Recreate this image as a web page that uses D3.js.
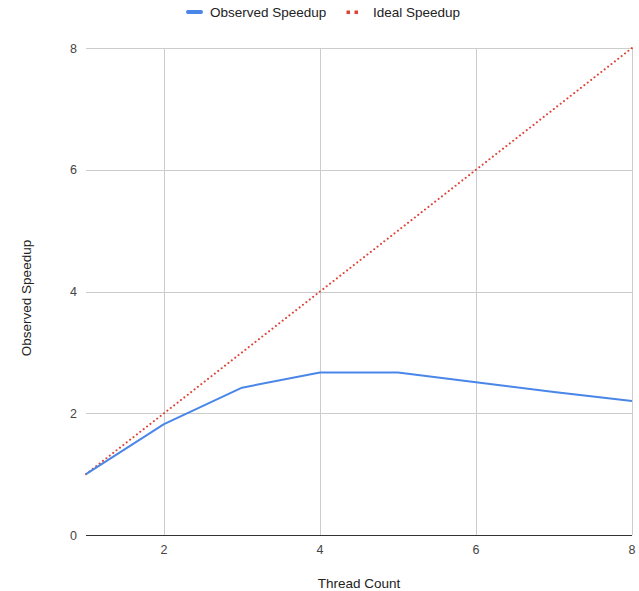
<!DOCTYPE html>
<html>
<head>
  <meta charset="utf-8">
  <title>Observed vs Ideal Speedup</title>
  <style>
    body { margin: 0; background: #fff; }
    svg { display: block; font-family: "Liberation Sans", Arial, sans-serif; }
    .grid line { stroke: #cccccc; stroke-width: 1px; }
    .tick-label { font-size: 12.5px; fill: #444; }
    .axis-title { font-size: 13.5px; fill: #222; }
    .legend-text { font-size: 13.5px; fill: #222; }
  </style>
</head>
<body>
  <svg width="639" height="591"></svg>
  <script src="https://d3js.org/d3.v7.min.js"></script>
  <script>
    // thread counts and measured speedups
    var threads = [1, 2, 3, 4, 5, 6, 7, 8];
    var observed = [1.0, 1.82, 2.42, 2.67, 2.67, 2.51, 2.35, 2.2];
    var ideal = [1, 2, 3, 4, 5, 6, 7, 8];
    var xTicks = [2, 4, 6, 8];
    var yTicks = [0, 2, 4, 6, 8];

    var svg = d3.select('svg');
    var margin = { left: 86, right: 7, top: 48, bottom: 56 };
    var width = 639, height = 591;

    var x = d3.scaleLinear().domain([1, 8]).range([margin.left, width - margin.right]);
    var y = d3.scaleLinear().domain([0, 8]).range([height - margin.bottom, margin.top]);

    // gridlines
    var grid = svg.append('g').attr('class', 'grid');
    grid.selectAll('.h').data(yTicks.filter(function(d) { return d > 0; })).enter().append('line')
      .attr('x1', x(1)).attr('x2', x(8))
      .attr('y1', function(d) { return Math.round(y(d)) + 0.5; })
      .attr('y2', function(d) { return Math.round(y(d)) + 0.5; });
    grid.selectAll('.v').data(xTicks).enter().append('line')
      .attr('x1', function(d) { return Math.round(x(d)) + 0.5; })
      .attr('x2', function(d) { return Math.round(x(d)) + 0.5; })
      .attr('y1', y(8)).attr('y2', y(0));

    // baseline
    svg.append('line')
      .attr('x1', x(1)).attr('x2', x(8))
      .attr('y1', Math.round(y(0)) + 0.5).attr('y2', Math.round(y(0)) + 0.5)
      .attr('stroke', '#333').attr('stroke-width', 1);

    // tick labels
    svg.selectAll('.ylab').data(yTicks).enter().append('text')
      .attr('class', 'tick-label')
      .attr('x', margin.left - 9)
      .attr('y', function(d) { return y(d) + 4.5; })
      .attr('text-anchor', 'end')
      .text(function(d) { return d; });
    svg.selectAll('.xlab').data(xTicks).enter().append('text')
      .attr('class', 'tick-label')
      .attr('x', function(d) { return x(d); })
      .attr('y', y(0) + 19)
      .attr('text-anchor', 'middle')
      .text(function(d) { return d; });

    // axis titles
    svg.append('text').attr('class', 'axis-title')
      .attr('x', 359).attr('y', 588)
      .attr('text-anchor', 'middle')
      .text('Thread Count');
    svg.append('text').attr('class', 'axis-title')
      .attr('transform', 'translate(31,298) rotate(-90)')
      .attr('text-anchor', 'middle')
      .text('Observed Speedup');

    var line = d3.line()
      .x(function(d) { return x(d[0]); })
      .y(function(d) { return y(d[1]); });

    // ideal speedup (dotted red)
    svg.append('path')
      .datum(d3.zip(threads, ideal))
      .attr('d', line)
      .attr('fill', 'none')
      .attr('stroke', '#db4437')
      .attr('stroke-width', 2)
      .attr('stroke-linecap', 'round')
      .attr('stroke-dasharray', '0.1 4.2');

    // observed speedup (solid blue)
    svg.append('path')
      .datum(d3.zip(threads, observed))
      .attr('d', line)
      .attr('fill', 'none')
      .attr('stroke', '#4a86e8')
      .attr('stroke-width', 2)
      .attr('stroke-linejoin', 'round');

    // legend
    var legend = svg.append('g');
    legend.append('line')
      .attr('x1', 188).attr('x2', 201).attr('y1', 12).attr('y2', 12)
      .attr('stroke', '#4a86e8').attr('stroke-width', 4).attr('stroke-linecap', 'round');
    legend.append('text').attr('class', 'legend-text')
      .attr('x', 210).attr('y', 16.5).text('Observed Speedup');
    legend.selectAll('.dot').data([348, 356]).enter().append('rect')
      .attr('x', function(d) { return d - 1.5; }).attr('y', 10.5)
      .attr('width', 3.5).attr('height', 3.5)
      .attr('fill', '#db4437');
    legend.append('text').attr('class', 'legend-text')
      .attr('x', 373).attr('y', 16.5).text('Ideal Speedup');
  </script>
</body>
</html>
